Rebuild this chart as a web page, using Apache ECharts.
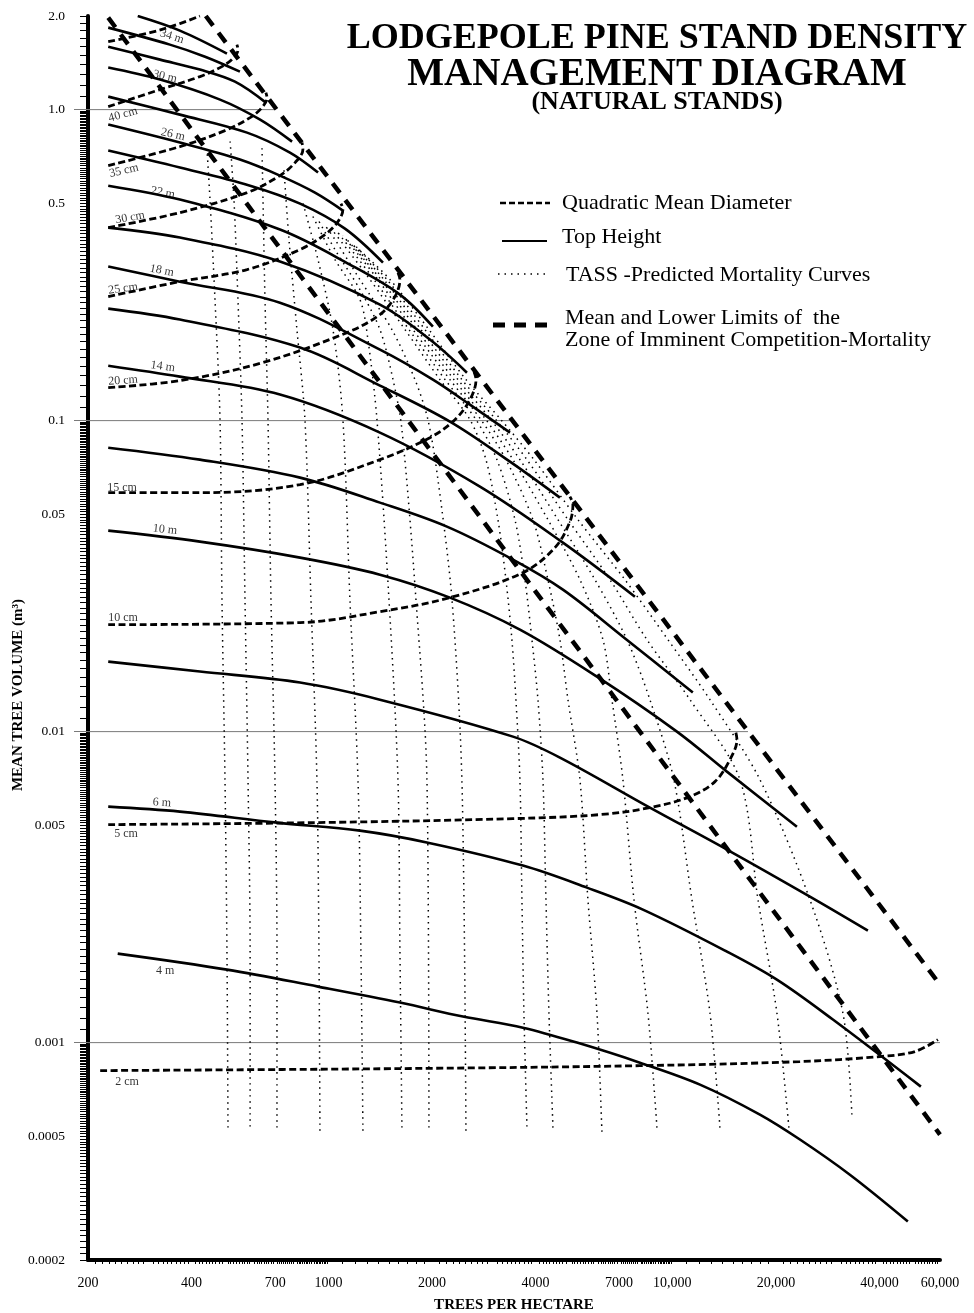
<!DOCTYPE html>
<html><head><meta charset="utf-8">
<script src="https://cdn.jsdelivr.net/npm/echarts@6/dist/echarts.min.js"></script>
<style>html,body{margin:0;padding:0;background:#fff}#c{width:974px;height:1313px}</style>
</head><body><div id="c"></div>
<script>
// ---------- axis labels ----------
const xLabelValues = [200,400,700,1000,2000,4000,7000,10000,20000,40000,60000];
const xLabelTexts  = ['200','400','700','1000','2000','4000','7000','10,000','20,000','40,000','60,000'];
const yLabelValues = [0.0002,0.0005,0.001,0.005,0.01,0.05,0.1,0.5,1,2];
const yLabelTexts  = ['0.0002','0.0005','0.001','0.005','0.01','0.05','0.1','0.5','1.0','2.0'];
const yMajorTicks  = [0.001,0.01,0.1,1];

// ---------- top height curves (trees/ha, m3) ----------
const h36 = [[279,2.0],[370,1.795],[507,1.514]];
const h34 = [[229,1.835],[346,1.618],[438,1.480],[553,1.325]];
const h32 = [[229,1.594],[324,1.448],[423,1.345],[535,1.230],[658,1.053]];
const h30 = [[229,1.365],[324,1.249],[484,1.077],[633,0.9286],[784,0.789]];
const h28 = [[229,1.101],[370,0.9636],[580,0.8434],[773,0.7273],[933,0.6274]];
const h26 = [[229,0.895],[370,0.7834],[553,0.6907],[723,0.6135],[914,0.5409],[1102,0.4735]];
const h24 = [[229,0.7383],[370,0.651],[592,0.5695],[827,0.4986],[1117,0.4144],[1441,0.3221]];
const h22 = [[229,0.5695],[370,0.5137],[723,0.4114],[1155,0.3175],[1614,0.2542],[2013,0.2005]];
const h20 = [[229,0.4174],[370,0.3878],[723,0.3246],[1412,0.236],[1973,0.1822],[2528,0.1426]];
const h18 = [[229,0.3128],[370,0.2798],[723,0.2395],[1412,0.1692],[2013,0.1355],[2579,0.1126],[3372,0.0915]];
const h16 = [[229,0.2291],[370,0.2113],[827,0.1717],[1412,0.1296],[2256,0.09927],[3372,0.07381],[4711,0.05654]];
const h14 = [[229,0.1502],[370,0.1385],[723,0.1213],[1412,0.0915],[2758,0.06135],[4806,0.04052],[7783,0.02716]];
const h12 = [[229,0.08185],[423,0.07491],[827,0.06557],[1412,0.05449],[2211,0.04561],[3440,0.03573],[4806,0.02861],[7182,0.0202],[11470,0.01335]];
const h10 = [[229,0.04428],[423,0.04082],[827,0.03627],[1412,0.03197],[2256,0.02697],[3604,0.02128],[6036,0.01502],[10310,0.01],[14410,0.007436],[23020,0.004946]];
const h8  = [[229,0.01679],[423,0.0156],[827,0.01438],[1412,0.01267],[3440,0.009636],[4711,0.00825],[8603,0.005695],[14410,0.004174],[25110,0.002947],[37030,0.002291]];
const h6  = [[229,0.005739],[370,0.005532],[709,0.005097],[1235,0.004805],[1947,0.004395],[3677,0.003708],[5644,0.00315],[8210,0.002678],[14410,0.001962],[20130,0.001594],[29290,0.001186],[52790,0.000722]];
const h4  = [[244,0.001933],[507,0.001717],[933,0.001514],[1614,0.001345],[2461,0.001213],[3677,0.001117],[5279,0.001],[8048,0.000862],[12030,0.000733],[17970,0.000587],[23490,0.000488],[32820,0.000376],[48380,0.000266]];

// ---------- quadratic mean diameter curves ----------
const q2  = [[217,0.000813],[1614,0.000825],[8048,0.000843],[23490,0.000869],[40130,0.000902],[50710,0.000936],[59160,0.001022]];
const q5  = [[229,0.005023],[902,0.005097],[3440,0.005251],[6157,0.005409],[8603,0.005695],[11250,0.00618],[13300,0.006907],[14700,0.008128],[15410,0.009425],[15300,0.009926]];
const q10 = [[229,0.02208],[827,0.02241],[1412,0.0243],[2256,0.02697],[3677,0.03245],[4556,0.03904],[5037,0.04733],[5139,0.05369],[5037,0.05695]];
const q15 = [[229,0.05867],[423,0.05867],[827,0.06225],[1412,0.07491],[1973,0.08815],[2333,0.1007],[2579,0.1168],[2686,0.1355],[2651,0.1437]];
const q20 = [[229,0.1277],[370,0.1345],[645,0.1537],[1132,0.1919],[1412,0.2192],[1561,0.2505],[1614,0.2841],[1593,0.2992]];
const q25 = [[229,0.2505],[370,0.2798],[580,0.306],[827,0.3548],[977,0.3963],[1066,0.4364],[1102,0.477],[1088,0.4986]];
const q30 = [[229,0.4174],[370,0.4665],[580,0.5409],[723,0.6135],[800,0.6756],[843,0.7437],[838,0.7834]];
const q35 = [[229,0.6606],[370,0.7603],[500,0.856],[592,0.9425],[641,1.015],[663,1.093],[658,1.134]];
const q40 = [[229,1.022],[324,1.16],[423,1.277],[490,1.375],[531,1.47],[546,1.559],[542,1.618]];
const q45 = [[229,1.654],[303,1.768],[370,1.89],[423,2.0]];

// ---------- zone of imminent competition-mortality ----------
const zoneUpper = [[440,2.0],[60000,0.001536]];
const zoneLower = [[229,1.976],[60000,0.000506]];

// ---------- TASS predicted mortality curves ----------
const t1  = [[510.6,0.000533],[507,0.001991],[500.4,0.007011],[490.4,0.02657],[484,0.1007],[468,0.245],[452.6,0.5137],[443.6,0.7437]];
const t2  = [[592,0.000537],[592,0.001991],[583.8,0.007011],[572.1,0.02657],[560.8,0.1007],[545.8,0.245],[531.4,0.5137],[517.5,0.8009]];
const t3  = [[708.7,0.000533],[708.7,0.001991],[699.3,0.007011],[680.8,0.02657],[667.3,0.1007],[654,0.245],[645.4,0.5137],[641,0.7603]];
const t4  = [[944.9,0.000521],[938.6,0.001991],[926,0.007011],[889.7,0.02657],[854.6,0.1007],[810,0.1962],[768,0.382],[742.6,0.6414]];
const t5  = [[1260,0.000521],[1243,0.001991],[1219,0.007011],[1155,0.02657],[1102,0.1007],[1031,0.1962],[932.5,0.3295],[837.7,0.5137]];
const t6  = [[1636,0.000533],[1614,0.001991],[1593,0.007011],[1500,0.02657],[1384,0.1007],[1303,0.1822],[1235,0.245],[1045,0.3295],[895.8,0.4597]];
const t7  = [[1960,0.000533],[1934,0.007011],[1797,0.02657],[1636,0.09356],[1541,0.1355],[1412,0.1962],[1235,0.2638],[1045,0.3548],[932.5,0.443]];
const t8  = [[2511,0.000521],[2444,0.007011],[2287,0.02657],[2082,0.06461],[1947,0.1007],[1785,0.1355],[1530,0.1962],[1235,0.2841],[1045,0.382],[983.8,0.4205]];
const t9  = [[3777,0.000537],[3702,0.001249],[3653,0.002883],[3604,0.007011],[3509,0.01267],[3416,0.01976],[3282,0.03081],[3111,0.04804],[2871,0.07491],[2579,0.1007],[2110,0.1355],[1670,0.1962],[1321,0.2841],[1024,0.4114]];
const t10 = [[4496,0.000533],[4377,0.001249],[4290,0.002883],[4205,0.007011],[4066,0.01267],[3906,0.01976],[3727,0.03081],[3486,0.04804],[3090,0.07491],[2686,0.1007],[2183,0.1355],[1715,0.1962],[1357,0.2841],[1066,0.4022]];
const t11 = [[6240,0.000517],[6036,0.001249],[5682,0.002883],[5386,0.007011],[4971,0.01267],[4711,0.01976],[4347,0.03081],[3932,0.04804],[3282,0.07491],[2776,0.1007],[2256,0.1355],[1762,0.1962],[1393,0.2841],[1102,0.3934]];
const t12 = [[9019,0.000533],[8490,0.001249],[7733,0.002883],[7182,0.007011],[6673,0.01267],[6282,0.01976],[5386,0.03081],[4347,0.04804],[3440,0.07491],[2871,0.1007],[2317,0.1355],[1809,0.1962],[1421,0.2841],[1132,0.382]];
const t13 = [[13750,0.000533],[12860,0.001249],[11400,0.002883],[10100,0.007011],[8603,0.01267],[7377,0.01976],[5954,0.03081],[4649,0.04804],[3604,0.07491],[2969,0.1007],[2380,0.1355],[1858,0.1962],[1450,0.2841],[1163,0.3735]];
const t14 = [[21820,0.000533],[20130,0.001249],[17740,0.002883],[15720,0.007011],[11250,0.01267],[8433,0.01976],[6584,0.03081],[4971,0.04804],[3777,0.07491],[3069,0.1007],[2444,0.1355],[1909,0.1962],[1480,0.2841],[1195,0.3653]];
const t15 = [[33260,0.000587],[31310,0.001249],[25110,0.002883],[17970,0.007011],[12860,0.01267],[9706,0.01976],[7279,0.03081],[5314,0.04804],[3959,0.07491],[3174,0.1007],[2511,0.1355],[1960,0.1962],[1510,0.2841],[1227,0.3548]];

// ---------- reference lines at decades ----------
const gridLevels = [1, 0.1, 0.01, 0.001];
const gridEnds   = [699, 3416, 16590, 60000];

// ---------- curve labels ----------
const heightLabelText = ['34 m','30 m','26 m','22 m','18 m','14 m','10 m','6 m','4 m'];
const heightLabelAt   = [[351,1.717],[335,1.277],[353,0.8309],[330,0.5409],[328,0.3036],[330,0.1492],[335,0.04461],[328,0.00591],[335,0.001704]];
const heightLabelTilt = [-17,-13,-13,-11,-11,-8,-6,-4,0];
const qmdLabelText = ['40 cm','35 cm','30 cm','25 cm','20 cm','15 cm','10 cm','5 cm','2 cm'];
const qmdLabelAt   = [[252.8,0.9636],[254.5,0.6365],[265,0.4496],[252.8,0.2657],[252.8,0.1345],[251.1,0.06089],[252.8,0.02326],[257.9,0.004699],[259.6,0.000749]];
const qmdLabelTilt = [16,13,10,8,4,0,0,0,0];

// ---------- build ----------
const SERIF = '"Liberation Serif", "Times New Roman", serif';
function rulerTicks(decades, lo, hi, skipMajor) {
  const out = [];
  decades.forEach(d => {
    const step = d / 10;
    for (let k = 10; k <= 100; k++) {
      const v = +(step * k).toPrecision(6);
      if (v < lo * 0.999999 || v > hi * 1.000001) continue;
      if (skipMajor && k % 10 === 0) continue;
      out.push(v);
    }
  });
  return out;
}
const yRuler = rulerTicks([0.0001,0.001,0.01,0.1,1], 0.0002, 2, false);
const xRuler = rulerTicks([100,1000,10000], 200, 60000, true);

function labelFor(v, vals, texts) {
  let best = 0, bd = Infinity;
  vals.forEach((u, i) => { const d = Math.abs(Math.log10(v) - Math.log10(u)); if (d < bd) { bd = d; best = i; } });
  return texts[best];
}
function curve(data, style, smooth, z) {
  return {type:'line', data, symbol:'none', showSymbol:false, smooth, silent:true, animation:false, z, lineStyle:style};
}
const solidStyle  = {color:'#000', width:2.6};
const qmdStyle    = {color:'#000', width:2.8, type:[7,3.5]};
const tassStyle   = {color:'#000', width:1.5, type:[1.5,4.5]};
const zoneStyle   = {color:'#000', width:4.5, type:[12,9]};

const series = [];
gridLevels.forEach((lv, i) => series.push(curve([[200, lv],[gridEnds[i], lv]], {color:'#7a7a7a', width:1}, false, 1)));
[t1,t2,t3,t4,t5,t6,t7,t8,t9,t10,t11,t12,t13,t14,t15].forEach(d => series.push(curve(d, tassStyle, 0.3, 2)));
[q2,q5,q10,q15,q20,q25,q30,q35,q40,q45].forEach(d => series.push(curve(d, qmdStyle, 0.35, 3)));
[h36,h34,h32,h30,h28,h26,h24,h22,h20,h18,h16,h14,h12,h10,h8,h6,h4].forEach(d => series.push(curve(d, solidStyle, 0.35, 3)));
[zoneUpper, zoneLower].forEach(d => series.push(curve(d, zoneStyle, false, 4)));

function labelSeries(texts, pos, tilt) {
  return {
    type:'scatter', symbolSize:0, silent:true, animation:false, z:6,
    data: texts.map((t, i) => ({name:t, value:pos[i], label:{rotate:tilt[i]}})),
    label:{show:true, position:[0,0], align:'center', verticalAlign:'middle', formatter:p => p.name,
           fontFamily:SERIF, fontSize:12, color:'#000'}
  };
}
series.push(labelSeries(heightLabelText, heightLabelAt, heightLabelTilt));
series.push(labelSeries(qmdLabelText, qmdLabelAt, qmdLabelTilt));

const option = {
  animation:false,
  backgroundColor:'#fff',
  grid:{left:88, right:34, top:16, bottom:53, containLabel:false, outerBoundsMode:'none'},
  xAxis:{
    type:'log', logBase:10, min:200, max:60000,
    axisLine:{show:true, lineStyle:{color:'#000', width:4}},
    axisTick:{show:true, customValues:xRuler, length:4, lineStyle:{color:'#000', width:1}},
    axisLabel:{customValues:xLabelValues, margin:16, formatter:v => labelFor(v, xLabelValues, xLabelTexts),
               fontFamily:SERIF, fontSize:14, color:'#000'},
    splitLine:{show:false}, minorTick:{show:false}, minorSplitLine:{show:false},
    name:'TREES PER HECTARE', nameLocation:'middle', nameGap:38,
    nameTextStyle:{fontFamily:SERIF, fontSize:15, fontWeight:'bold', color:'#000'}
  },
  yAxis:[{
    type:'log', logBase:10, min:0.0002, max:2, position:'left',
    axisLine:{show:true, lineStyle:{color:'#000', width:4}},
    axisTick:{show:true, customValues:yRuler, length:8, lineStyle:{color:'#000', width:1}},
    axisLabel:{customValues:yLabelValues, margin:23, formatter:v => labelFor(v, yLabelValues, yLabelTexts),
               fontFamily:SERIF, fontSize:13.5, color:'#000'},
    splitLine:{show:false}, minorTick:{show:false}
  },{
    type:'log', logBase:10, min:0.0002, max:2, position:'left', offset:0,
    axisLine:{show:false},
    axisTick:{show:true, customValues:yMajorTicks, length:14, lineStyle:{color:'#7a7a7a', width:1}},
    axisLabel:{show:false}, splitLine:{show:false}
  }],
  series,
  graphic:[
    {type:'text', x:657, y:39, style:{text:'LODGEPOLE PINE STAND DENSITY', font:'bold 36px ' + SERIF, fill:'#000', align:'center', verticalAlign:'middle'}},
    {type:'text', x:657, y:75, style:{text:'MANAGEMENT DIAGRAM', font:'bold 39px ' + SERIF, fill:'#000', align:'center', verticalAlign:'middle'}},
    {type:'text', x:657, y:102, style:{text:'(NATURAL STANDS)', font:'bold 26px ' + SERIF, fill:'#000', align:'center', verticalAlign:'middle'}},
    {type:'line', shape:{x1:500, y1:203, x2:550, y2:203}, style:{stroke:'#000', lineWidth:2.6, lineDash:[6,3]}},
    {type:'text', x:562, y:203, style:{text:'Quadratic Mean Diameter', font:'22px ' + SERIF, fill:'#000', align:'left', verticalAlign:'middle'}},
    {type:'line', shape:{x1:502, y1:241, x2:547, y2:241}, style:{stroke:'#000', lineWidth:2}},
    {type:'text', x:562, y:237, style:{text:'Top Height', font:'22px ' + SERIF, fill:'#000', align:'left', verticalAlign:'middle'}},
    {type:'line', shape:{x1:498, y1:274, x2:548, y2:274}, style:{stroke:'#000', lineWidth:1.5, lineDash:[1.5,5]}},
    {type:'text', x:566, y:275, style:{text:'TASS -Predicted Mortality Curves', font:'22px ' + SERIF, fill:'#000', align:'left', verticalAlign:'middle'}},
    {type:'line', shape:{x1:493, y1:325, x2:550, y2:325}, style:{stroke:'#000', lineWidth:5, lineDash:[12,9]}},
    {type:'text', x:565, y:318, style:{text:'Mean and Lower Limits of  the', font:'22px ' + SERIF, fill:'#000', align:'left', verticalAlign:'middle'}},
    {type:'text', x:565, y:340, style:{text:'Zone of Imminent Competition-Mortality', font:'22px ' + SERIF, fill:'#000', align:'left', verticalAlign:'middle'}},
    {type:'text', x:18, y:695, rotation:Math.PI/2, style:{text:'MEAN TREE VOLUME (m³)', font:'bold 15px ' + SERIF, fill:'#000', align:'center', verticalAlign:'middle'}}
  ]
};
const chart = echarts.init(document.getElementById('c'), null, {renderer:'canvas'});
chart.setOption(option);
</script>
</body></html>
